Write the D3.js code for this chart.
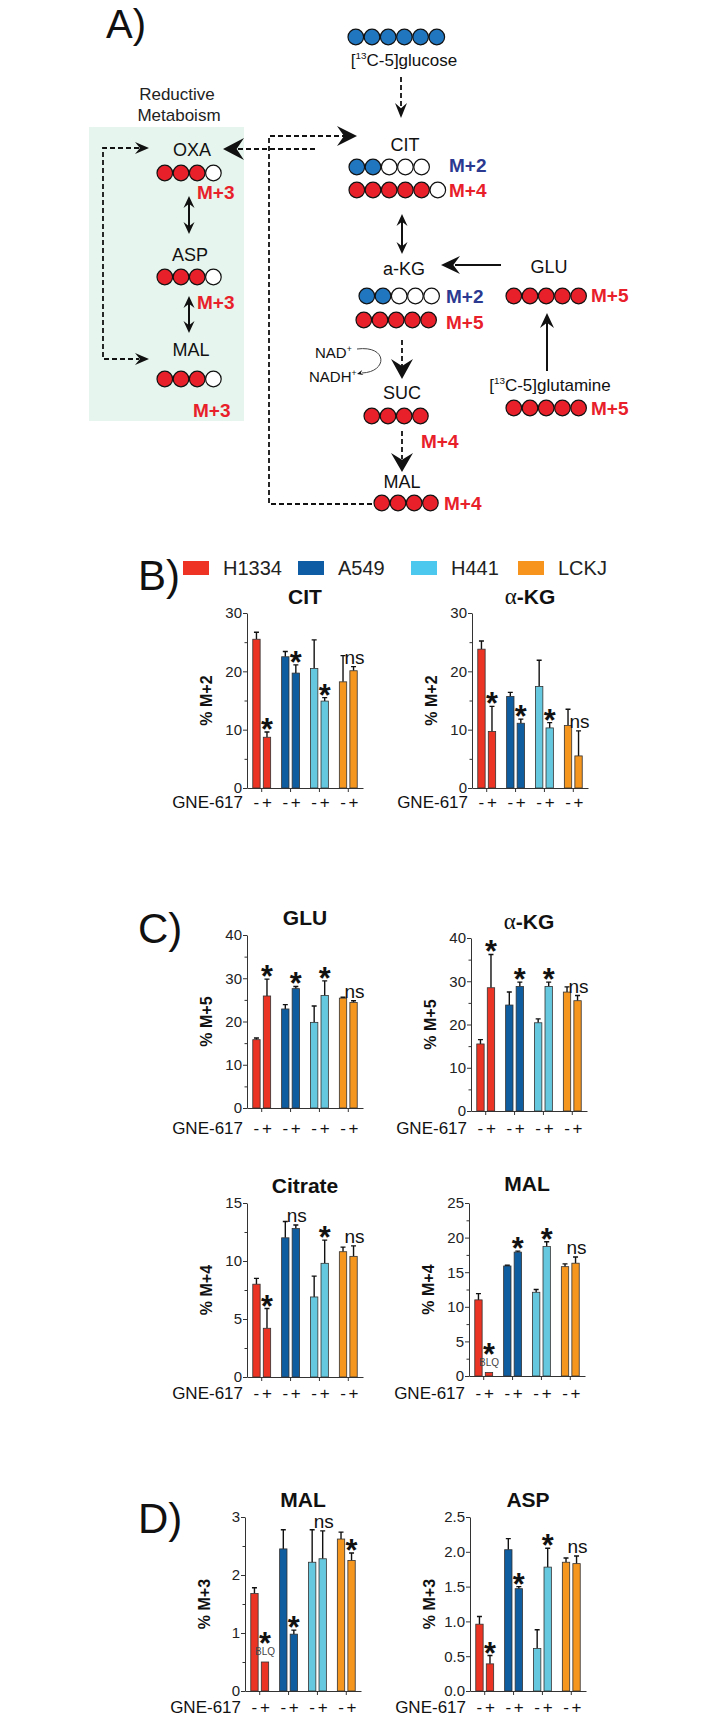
<!DOCTYPE html>
<html><head><meta charset="utf-8">
<script src="https://cdn.jsdelivr.net/npm/d3@7"></script>
<style>
body{margin:0;background:#fff}
svg{display:block}
text{font-family:"Liberation Sans",Arial,Helvetica,sans-serif}
</style>
</head><body>
<svg id="fig" width="716" height="1717"></svg>
<script>
// ---------------- DATA ----------------
const cells = ["H1334", "A549", "H441", "LCKJ"];
const treatments = ["-", "+"];

// values in order: H1334(-,+), A549(-,+), H441(-,+), LCKJ(-,+)
const citM2      = [25.5, 8.7, 22.5, 19.7, 20.5, 14.9, 18.2, 20.1];
const citM2Err   = [1.2, 0.9, 0.9, 1.4, 4.9, 0.6, 4.5, 0.7];
const citM2Sig   = ["*", "*", "*", "ns"];

const akgM2      = [23.8, 9.7, 15.7, 11.1, 17.4, 10.3, 10.7, 5.5];
const akgM2Err   = [1.4, 4.3, 0.7, 0.7, 4.5, 0.9, 2.8, 4.3];
const akgM2Sig   = ["*", "*", "*", "ns"];

const gluM5      = [15.8, 25.9, 22.9, 27.6, 19.8, 26.0, 25.4, 24.4];
const gluM5Err   = [0.4, 3.9, 1.0, 0.5, 3.8, 3.4, 0.2, 0.4];
const gluM5Sig   = ["*", "*", "*", "ns"];

const akgM5      = [15.5, 28.5, 24.5, 28.8, 20.4, 28.8, 27.5, 25.5];
const akgM5Err   = [1.0, 7.7, 3.0, 1.0, 0.9, 1.0, 1.2, 1.2];
const akgM5Sig   = ["*", "*", "*", "ns"];

const citrateM4    = [8.0, 4.2, 12.0, 12.8, 6.9, 9.8, 10.8, 10.4];
const citrateM4Err = [0.5, 1.7, 1.4, 0.3, 1.8, 2.0, 0.4, 0.9];
const citrateM4Sig = ["*", "ns", "*", "ns"];

const malM4      = [11.0, 0.5, 15.9, 17.9, 12.1, 18.7, 15.8, 16.3];
const malM4Err   = [0.9, 0, 0.1, 0.15, 0.4, 0.7, 0.4, 0.9];
const malM4Sig   = ["*", "*", "*", "ns"];
const malM4Blq   = [false, true, false, false, false, false, false, false];

const malM3      = [1.68, 0.50, 2.45, 0.98, 2.22, 2.28, 2.62, 2.25];
const malM3Err   = [0.10, 0, 0.33, 0.07, 0.56, 0.48, 0.12, 0.13];
const malM3Sig   = ["*", "*", "ns", "*"];
const malM3Blq   = [false, true, false, false, false, false, false, false];

const aspM3      = [0.96, 0.39, 2.03, 1.47, 0.61, 1.78, 1.85, 1.83];
const aspM3Err   = [0.11, 0.12, 0.16, 0.03, 0.27, 0.27, 0.06, 0.11];
const aspM3Sig   = ["*", "*", "*", "ns"];

const ticksM2   = [0, 10, 20, 30];
const ticksM5   = [0, 10, 20, 30, 40];
const ticksCitr = [0, 5, 10, 15];
const ticksMal4 = [0, 5, 10, 15, 20, 25];
const ticksMal3 = [0, 1, 2, 3];
const ticksAsp  = [0, 0.5, 1.0, 1.5, 2.0, 2.5];

// ---------------- STYLE ----------------
const barColors = {H1334: "#ec3424", A549: "#0f5c9e", H441: "#66c8de", LCKJ: "#f5961f"};
const legendColors = {H1334: "#ee3224", A549: "#0e5ca4", H441: "#4cc8ef", LCKJ: "#f7941d"};
const RED = "#e8202a", NAVY = "#2b3990", BLUE = "#2176c0";

const svg = d3.select("#fig");
svg.append("rect").attr("width", 716).attr("height", 1717).attr("fill", "#fff");

// glyph metrics for the significance star
const ctx = document.createElement("canvas").getContext("2d");
function glyph(fs, weight, s) {
  ctx.font = `${weight} ${fs}px "Liberation Sans", Arial, sans-serif`;
  return ctx.measureText(s);
}
let STAR_FS = 32;
(function () {
  const m = glyph(32, "bold", "*");
  const h = m.actualBoundingBoxAscent + m.actualBoundingBoxDescent;
  if (h > 1) STAR_FS = 32 * 11.5 / h;
})();
const starM = glyph(STAR_FS, "bold", "*");

// ---------------- PANEL A (diagram) ----------------
const A = svg.append("g");
function txt(g, x, y, s, o = {}) {
  return g.append("text").attr("x", x).attr("y", y)
    .attr("text-anchor", o.anchor || "middle")
    .attr("font-size", o.size || 18)
    .attr("font-weight", o.weight || "normal")
    .attr("fill", o.fill || "#111").text(s);
}
function supText(g, x, y, parts, size, anchor) {
  const t = g.append("text").attr("x", x).attr("y", y).attr("font-size", size)
    .attr("text-anchor", anchor || "middle").attr("fill", "#111");
  parts.forEach(p => {
    if (p.sup) t.append("tspan").attr("font-size", size * 0.58).attr("dy", -size * 0.4).text(p.s);
    else t.append("tspan").attr("dy", p.back ? size * 0.4 : 0).text(p.s);
  });
  return t;
}
function row(g, x0, y, pattern, fill) {
  const r = 7.8, step = 16.2;
  pattern.split("").forEach((c, i) => {
    g.append("circle").attr("cx", x0 + r + i * step).attr("cy", y).attr("r", r)
      .attr("fill", c === "W" ? "#fff" : fill).attr("stroke", "#111").attr("stroke-width", 1.2);
  });
}
function head(g, tx, ty, ux, uy, L, W) {
  const bx = tx - ux * L, by = ty - uy * L;
  const nx = -uy, ny = ux;
  const nxp = tx - ux * L * 0.65, nyp = ty - uy * L * 0.65;
  g.append("path").attr("d",
    `M${tx},${ty}L${bx + nx * W},${by + ny * W}L${nxp},${nyp}L${bx - nx * W},${by - ny * W}Z`)
    .attr("fill", "#111");
}
function dashed(g, d) {
  g.append("path").attr("d", d).attr("fill", "none").attr("stroke", "#111")
    .attr("stroke-width", 1.8).attr("stroke-dasharray", "5,3");
}
function solid(g, d, w) {
  g.append("path").attr("d", d).attr("fill", "none").attr("stroke", "#111").attr("stroke-width", w || 2);
}
function dbl(g, x, y1, y2) {
  solid(g, `M${x},${y1 + 6}V${y2 - 6}`, 2);
  head(g, x, y1, 0, -1, 12, 5.5);
  head(g, x, y2, 0, 1, 12, 5.5);
}
const M = (g, x, y, s, fill) => txt(g, x, y, s, {anchor: "start", size: 19, weight: "bold", fill});

txt(A, 106, 38, "A)", {anchor: "start", size: 40});

// reductive box
A.append("rect").attr("x", 89).attr("y", 127).attr("width", 155).attr("height", 294).attr("fill", "#e6f5ed");
txt(A, 177, 100, "Reductive", {size: 17, fill: "#222"});
txt(A, 179, 121, "Metaboism", {size: 17, fill: "#222"});

txt(A, 192, 156, "OXA");
row(A, 157, 173, "RRRW", RED);
M(A, 197, 199, "M+3", RED);
dbl(A, 189, 196, 234);
txt(A, 190, 261, "ASP");
row(A, 157, 277, "RRRW", RED);
M(A, 197, 309, "M+3", RED);
dbl(A, 189, 296, 333);
txt(A, 191, 356, "MAL");
row(A, 157, 379, "RRRW", RED);
M(A, 193, 417, "M+3", RED);

// left dashed bracket
dashed(A, "M139,148H103V359H139");
head(A, 149, 148, 1, 0, 14, 6);
head(A, 149, 359, 1, 0, 14, 6);

// OXA <-> CIT dashed arrows and the return loop from MAL
dashed(A, "M372,504H269V136H344");
head(A, 357, 136, 1, 0, 20, 10);
dashed(A, "M315,149H236");
head(A, 223, 149, -1, 0, 21, 11);

// glucose
row(A, 348, 37, "BBBBBB", BLUE);
supText(A, 404, 66, [{s: "["}, {s: "13", sup: true}, {s: "C-5]glucose", back: true}], 17);
dashed(A, "M401,77V108");
head(A, 401, 118, 0, 1, 15, 6);

// CIT
txt(A, 405, 151, "CIT");
row(A, 349, 167, "BBWWW", BLUE);
M(A, 449, 172, "M+2", NAVY);
row(A, 349, 190, "RRRRRW", RED);
M(A, 449, 197, "M+4", RED);
dbl(A, 402, 214, 254);

// a-KG
txt(A, 404, 275, "a-KG");
row(A, 359, 296, "BBWWW", BLUE);
M(A, 446, 303, "M+2", NAVY);
row(A, 356, 320, "RRRRR", RED);
M(A, 446, 329, "M+5", RED);

// GLU and glutamine
txt(A, 549, 273, "GLU");
row(A, 506, 296, "RRRRR", RED);
M(A, 591, 302, "M+5", RED);
solid(A, "M501,265H455", 2);
head(A, 441, 265, -1, 0, 19, 9);
solid(A, "M547,371V323", 2);
head(A, 547, 313, 0, -1, 15, 7);
supText(A, 550, 391, [{s: "["}, {s: "13", sup: true}, {s: "C-5]glutamine", back: true}], 17);
row(A, 506, 408, "RRRRR", RED);
M(A, 591, 415, "M+5", RED);

// NAD+/NADH+
supText(A, 315, 358, [{s: "NAD"}, {s: "+", sup: true}], 15, "start");
supText(A, 309, 382, [{s: "NADH"}, {s: "+", sup: true}], 15, "start");
A.append("path").attr("d", "M357,349C388,345 388,372 362,373").attr("fill", "none")
  .attr("stroke", "#444").attr("stroke-width", 1);
head(A, 357, 374, -0.97, 0.25, 6, 2.5);

// SUC, MAL
dashed(A, "M402,340V366");
head(A, 402, 379, 0, 1, 20, 11);
txt(A, 402, 399, "SUC");
row(A, 364, 416, "RRRR", RED);
M(A, 421, 448, "M+4", RED);
dashed(A, "M402,431V459");
head(A, 402, 472, 0, 1, 19, 11);
txt(A, 402, 488, "MAL");
row(A, 374, 503, "RRRR", RED);
M(A, 444, 510, "M+4", RED);

// ---------------- LEGEND & PANEL LETTERS ----------------
const legendX = {H1334: 183, A549: 298, H441: 411, LCKJ: 518};
cells.forEach(c => {
  svg.append("rect").attr("x", legendX[c]).attr("y", 561).attr("width", 26).attr("height", 14)
    .attr("fill", legendColors[c]);
  txt(svg, legendX[c] + 40, 575, c, {anchor: "start", size: 20, fill: "#222"});
});
txt(svg, 138, 590, "B)", {anchor: "start", size: 42});
txt(svg, 138, 943, "C)", {anchor: "start", size: 42});
txt(svg, 138, 1533, "D)", {anchor: "start", size: 42});

// ---------------- BAR CHARTS ----------------
function starPos(cx, bottom) {
  return {
    x: cx - (starM.actualBoundingBoxRight - starM.actualBoundingBoxLeft) / 2,
    y: bottom - starM.actualBoundingBoxDescent
  };
}
function star(g, cx, bottom) {
  const p = starPos(cx, bottom);
  txt(g, p.x, p.y, "*", {anchor: "start", size: STAR_FS, weight: "bold", fill: "#111"});
}
// star stacked over a "BLQ" note, as one text element
function starBlq(g, cx, barTop) {
  const p = starPos(cx, barTop - 18);
  const t = g.append("text").attr("fill", "#111");
  t.append("tspan").attr("x", p.x).attr("y", p.y).attr("font-size", STAR_FS).attr("font-weight", "bold").text("*");
  t.append("tspan").attr("x", cx).attr("y", barTop - 7).attr("text-anchor", "middle")
    .attr("font-size", 10).attr("fill", "#444").text("BLQ");
}

function chart(o) {
  const g = svg.append("g");
  const x = d3.scaleBand().domain(cells).range([o.ax, o.ax + 116]).paddingInner(0.38).paddingOuter(0.2);
  const xi = d3.scaleBand().domain(treatments).range([0, x.bandwidth()]).paddingInner(0.3);
  const y = d3.scaleLinear().domain([0, o.ticks[o.ticks.length - 1]]).range([o.yb, o.yt]);

  const ya = g.append("g").attr("transform", `translate(${o.ax},0)`)
    .call(d3.axisLeft(y).tickValues(o.ticks).tickSize(4).tickSizeOuter(0).tickPadding(1).tickFormat(o.fmt));
  if (o.minor) {
    g.append("g").attr("transform", `translate(${o.ax},0)`)
      .call(d3.axisLeft(y).tickValues(o.minor).tickSize(2.5).tickSizeOuter(0).tickFormat(""))
      .select(".domain").remove();
  }
  g.append("g").attr("transform", `translate(0,${o.yb})`)
    .call(d3.axisBottom(x).tickSize(4).tickSizeOuter(0).tickFormat(""));
  g.selectAll(".domain, .tick line").attr("stroke", "#333").attr("stroke-width", 1);
  ya.selectAll("text").attr("font-size", 15).attr("fill", "#222")
    .attr("font-family", '"Liberation Sans",Arial,sans-serif');

  const rows = cells.flatMap((c, i) => treatments.map((t, j) => ({
    c, t, i, v: o.vals[i * 2 + j], e: o.errs[i * 2 + j], blq: o.blq ? o.blq[i * 2 + j] : false
  })));
  const bw = xi.bandwidth();
  const cx = d => x(d.c) + xi(d.t) + bw / 2;

  // error bars (upward only)
  rows.filter(d => d.e > 0).forEach(d => {
    const X = cx(d), y0 = y(d.v), y1 = y(d.v + d.e);
    g.append("path").attr("d", `M${X},${y0}V${y1}M${X - 2.5},${y1}H${X + 2.5}`)
      .attr("stroke", "#111").attr("stroke-width", 1.4).attr("fill", "none");
  });
  g.selectAll("rect.bar").data(rows).join("rect").attr("class", "bar")
    .attr("x", d => x(d.c) + xi(d.t)).attr("width", bw)
    .attr("y", d => y(d.v)).attr("height", d => o.yb - y(d.v))
    .attr("fill", d => barColors[d.c]).attr("stroke", "#333").attr("stroke-width", 0.8);

  // significance labels over the "+" bar
  rows.filter(d => d.t === "+").forEach(d => {
    const s = o.sig[d.i], X = cx(d);
    const top = y(d.v + d.e);
    if (d.blq) starBlq(g, X, y(d.v));
    else if (s === "*") star(g, X, top - 2);
    else txt(g, X + 1, top - 3, s, {size: 19, fill: "#111"});
  });

  // x labels
  txt(g, o.ax - 4, o.gy, "GNE-617", {anchor: "end", size: 17, fill: "#111"});
  rows.forEach(d => txt(g, cx(d), o.gy, d.t, {size: 17, fill: "#111"}));

  // title
  const tt = g.append("text").attr("x", o.ax + 58).attr("y", o.ty).attr("text-anchor", "middle")
    .attr("font-size", 21).attr("font-weight", "bold").attr("fill", "#111");
  if (o.alpha) {
    tt.append("tspan").attr("font-weight", "normal").attr("font-family", '"Liberation Serif","Times New Roman",serif')
      .attr("font-size", 23).text("α");
    tt.append("tspan").text("-KG");
  } else tt.text(o.title);

  // y label
  g.append("text").attr("transform", `translate(${o.ax - 41},${(o.yt + o.yb) / 2}) rotate(-90)`)
    .attr("text-anchor", "middle").attr("dy", "0.35em").attr("font-size", 16).attr("font-weight", "bold")
    .attr("fill", "#111").text(o.ylab);
}

const f0 = d3.format("d"), f1 = d3.format(".1f");
chart({ax: 247, yt: 613, yb: 788, ticks: ticksM2, minor: [5, 15, 25], fmt: f0, vals: citM2, errs: citM2Err,
  sig: citM2Sig, title: "CIT", ty: 604, ylab: "% M+2", gy: 808});
chart({ax: 472, yt: 613, yb: 788, ticks: ticksM2, minor: [5, 15, 25], fmt: f0, vals: akgM2, errs: akgM2Err,
  sig: akgM2Sig, alpha: true, ty: 604, ylab: "% M+2", gy: 808});
chart({ax: 247, yt: 935, yb: 1108, ticks: ticksM5, minor: [5, 15, 25, 35], fmt: f0, vals: gluM5, errs: gluM5Err,
  sig: gluM5Sig, title: "GLU", ty: 925, ylab: "% M+5", gy: 1134});
chart({ax: 471, yt: 938, yb: 1111, ticks: ticksM5, minor: [5, 15, 25, 35], fmt: f0, vals: akgM5, errs: akgM5Err,
  sig: akgM5Sig, alpha: true, ty: 929, ylab: "% M+5", gy: 1134});
chart({ax: 247, yt: 1203, yb: 1377, ticks: ticksCitr, minor: [2.5, 7.5, 12.5], fmt: f0, vals: citrateM4, errs: citrateM4Err,
  sig: citrateM4Sig, title: "Citrate", ty: 1193, ylab: "% M+4", gy: 1399});
chart({ax: 469, yt: 1203, yb: 1376, ticks: ticksMal4, minor: [2.5, 7.5, 12.5, 17.5, 22.5], fmt: f0, vals: malM4, errs: malM4Err,
  sig: malM4Sig, blq: malM4Blq, title: "MAL", ty: 1191, ylab: "% M+4", gy: 1399});
chart({ax: 245, yt: 1517, yb: 1691, ticks: ticksMal3, minor: [0.5, 1.5, 2.5], fmt: f0, vals: malM3, errs: malM3Err,
  sig: malM3Sig, blq: malM3Blq, title: "MAL", ty: 1507, ylab: "% M+3", gy: 1713});
chart({ax: 470, yt: 1517, yb: 1691, ticks: ticksAsp, minor: null, fmt: f1, vals: aspM3, errs: aspM3Err,
  sig: aspM3Sig, title: "ASP", ty: 1507, ylab: "% M+3", gy: 1713});
</script>
</body></html>
